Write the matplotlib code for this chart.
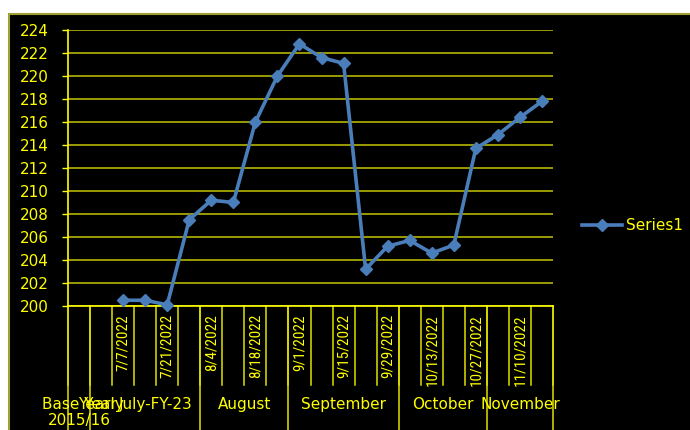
import numpy as np
import matplotlib
matplotlib.use("Agg")
import matplotlib.pyplot as plt
from matplotlib import font_manager
from matplotlib.patches import Rectangle
from matplotlib.transforms import blended_transform_factory

# ---- data ----
dates = ["", "", "7/7/2022", "7/14/2022", "7/21/2022", "7/28/2022",
         "8/4/2022", "8/11/2022", "8/18/2022", "8/25/2022",
         "9/1/2022", "9/8/2022", "9/15/2022", "9/22/2022", "9/29/2022",
         "10/6/2022", "10/13/2022", "10/20/2022", "10/27/2022",
         "11/3/2022", "11/10/2022", "11/17/2022"]
values = [np.nan, np.nan, 200.5, 200.5, 200.1, 207.5,
          209.2, 209.0, 216.0, 220.0,
          222.8, 221.6, 221.1, 203.2, 205.2,
          205.7, 204.6, 205.3, 213.7,
          214.9, 216.4, 217.8]
group_labels = ["Base Year\n2015/16", "Yearly", "July-FY-23", "August",
                "September", "October", "November"]
group_sizes = [1, 1, 4, 4, 5, 4, 3]
yticks = list(range(200, 225, 2))
series_name = "Series1"

# narrow font for the rotated date labels, if one is available
rot_font, rot_size = "DejaVu Sans", 9.5
for cand, sz in [("Liberation Sans Narrow", 11.5), ("DejaVu Sans Condensed", 10),
                 ("Roboto Condensed", 11), ("Open Sans Condensed", 11)]:
    try:
        fp = font_manager.findfont(cand, fallback_to_default=False)
        if fp:
            rot_font, rot_size = cand, sz
            break
    except Exception:
        pass

YEL = "#ffff00"
W, H = 690, 430
fig = plt.figure(figsize=(W / 100, H / 100), dpi=100)
fig.patch.set_facecolor("white")
bg = Rectangle((9 / W, -0.01), 1.0, (H - 14) / H + 0.01,
               transform=fig.transFigure, facecolor="black",
               edgecolor="#a0a030", lw=1.5, zorder=-10)
fig.patches.append(bg)

ax = fig.add_axes([68 / W, 124 / H, 485 / W, 276 / H])
ax.set_facecolor("black")
x = np.arange(len(dates))
ax.plot(x, values, color="#4a7ebb", lw=2.6, marker="D", ms=6.4,
        mfc="#4a7ebb", mec="#4a7ebb", mew=1, label=series_name, zorder=3,
        clip_on=False)
ax.set_xlim(-0.5, len(dates) - 0.5)
ax.set_ylim(yticks[0], yticks[-1])
ax.set_yticks(yticks)
ax.yaxis.grid(True, color="#c4c400", lw=1.1)
ax.set_axisbelow(True)
ax.tick_params(axis="y", colors=YEL, labelcolor=YEL, labelsize=11,
               length=4, width=1, pad=10)
ax.set_xticks([])
for s in ["top", "right"]:
    ax.spines[s].set_visible(False)
for s in ["left", "bottom"]:
    ax.spines[s].set_color(YEL)
    ax.spines[s].set_linewidth(1.2)

tr = blended_transform_factory(ax.transData, fig.transFigure)
y_axis = 124 / H
inner_bottom = 45 / H

# inner boundaries
for b in np.arange(len(dates) + 1) - 0.5:
    ax.plot([b, b], [y_axis, inner_bottom], transform=tr, clip_on=False,
            color="#e0e000", lw=1.1)
# outer group boundaries
edges = np.concatenate([[0], np.cumsum(group_sizes)])
for k, e in enumerate(edges):
    if k == 2:
        continue
    ax.plot([e - 0.5, e - 0.5], [y_axis, -0.01], transform=tr, clip_on=False,
            color="#e0e000", lw=1.1)

# inner labels (every other)
for i, d in enumerate(dates):
    if i % 2 == 0 and d:
        ax.text(i, (H - 314) / H, d, transform=tr, rotation=90, ha="center",
                va="top", fontsize=rot_size, family=rot_font, color=YEL)

# outer labels
for k, lab in enumerate(group_labels):
    c = (edges[k] + edges[k + 1] - 1) / 2
    ax.text(c, (H - 397) / H, lab, transform=tr, ha="center", va="top",
            fontsize=11, color=YEL, linespacing=1.1, multialignment="center")

leg = fig.legend(loc="center left", bbox_to_anchor=(582 / W, (H - 226) / H),
                 frameon=False, fontsize=11, handlelength=2.6,
                 handletextpad=0.3, borderpad=0, borderaxespad=0)
for t in leg.get_texts():
    t.set_color(YEL)

fig.savefig("out.png", dpi=100, facecolor=fig.get_facecolor())
